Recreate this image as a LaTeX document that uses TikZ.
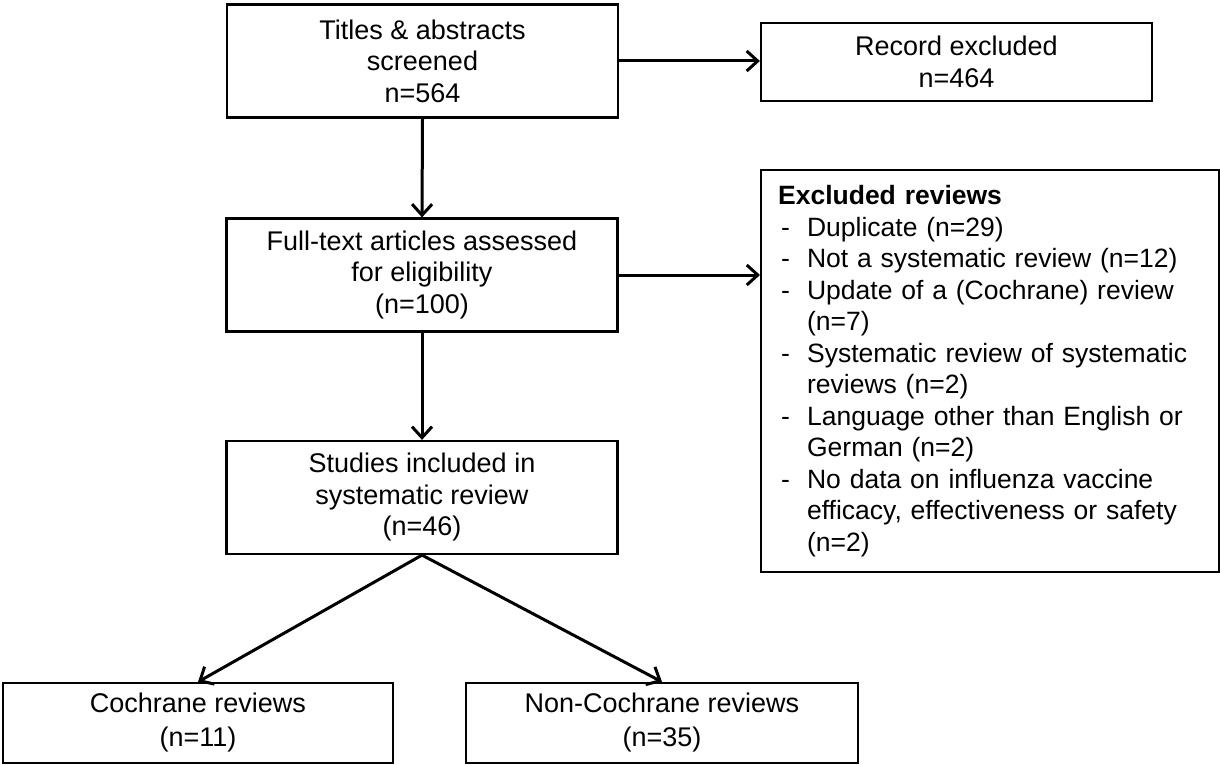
\documentclass[tikz,border=0pt]{standalone}
\usepackage{fontspec}
\setmainfont{Liberation Sans}
\usetikzlibrary{arrows.meta}
\newcommand{\exdash}{\makebox[29pt][l]{\hspace{3pt}-}}
\newcommand{\exindent}{\hspace*{29pt}}
\begin{document}
\begin{tikzpicture}[x=1pt, y=-1pt,
  flowbox/.style={draw, line width=2.2pt, align=center, inner sep=0pt,
    minimum width=391pt, minimum height=113pt,
    font=\fontsize{27}{31.5}\selectfont},
  flowarrow/.style={line width=3pt, -{Straight Barb[length=11pt, width=20pt]}}]
  \useasboundingbox (0,0) rectangle (1220,765);
  % main column
  \node[flowbox] (screened) at (422.5,61) {Titles \& abstracts\\screened\\n=564};
  \node[flowbox] (fulltext) at (422,275) {Full-text articles assessed\\for eligibility\\(n=100)};
  \node[flowbox] (included) at (422,497.5) {Studies included in\\systematic review\\(n=46)};
  % exclusions
  \node[flowbox, minimum height=78pt] (recexcl) at (956.5,62) {Record excluded\\n=464};
  \node[flowbox, anchor=north west, align=left, minimum width=458pt, minimum height=402pt,
    text width=424pt, inner xsep=17pt, font=\fontsize{26.5}{31.5}\selectfont] (revexcl) at (760,169) {%
    \textbf{Excluded reviews}\\
    \exdash Duplicate (n=29)\\
    \exdash Not a systematic review (n=12)\\
    \exdash Update of a (Cochrane) review\\
    \exindent (n=7)\\
    \exdash Systematic review of systematic\\
    \exindent reviews (n=2)\\
    \exdash Language other than English or\\
    \exindent German (n=2)\\
    \exdash No data on influenza vaccine\\
    \exindent efficacy, effectiveness or safety\\
    \exindent (n=2)};
  % split
  \node[flowbox, minimum height=80pt, minimum width=390pt,
    font=\fontsize{27}{34}\selectfont] (cochrane) at (198,723) {Cochrane reviews\\(n=11)};
  \node[flowbox, minimum height=80pt, minimum width=392pt,
    font=\fontsize{27}{34}\selectfont] (noncochrane) at (662,723) {Non-Cochrane reviews\\(n=35)};
  \draw[flowarrow] (screened.south) -- (fulltext.north);
  \draw[flowarrow] (screened.east) -- (screened.east -| recexcl.west);
  \draw[flowarrow] (fulltext.east) -- (fulltext.east -| revexcl.west);
  \draw[flowarrow] (fulltext.south) -- (included.north);
  \draw[flowarrow] (included.south) -- (cochrane.north);
  \draw[flowarrow] (included.south) -- (noncochrane.north);
\end{tikzpicture}
\end{document}
